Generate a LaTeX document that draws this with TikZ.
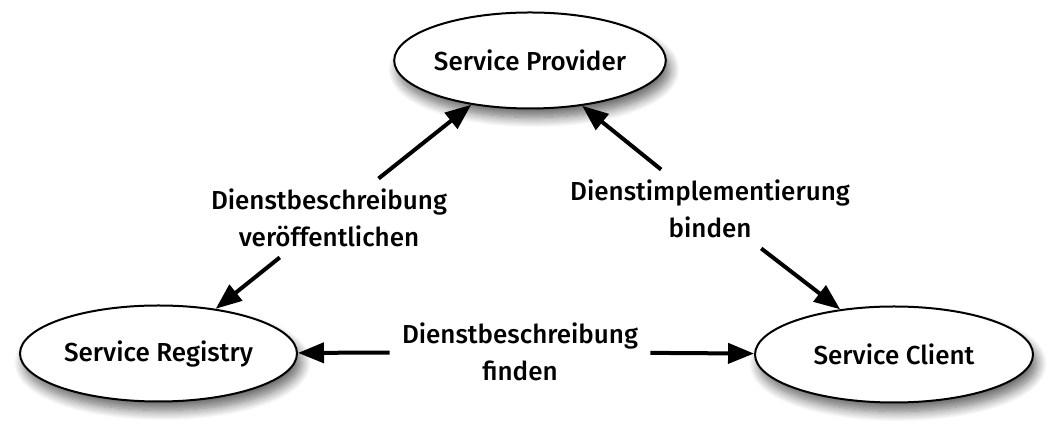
\documentclass[tikz,border=0pt]{standalone}
\usepackage{fontspec}
\setmainfont{Fira Sans Medium}
\usepackage{tikz}
\usetikzlibrary{arrows.meta,positioning,shapes.geometric,shadows.blur}
\tikzset{
  rolebox/.style={ellipse, draw, line width=1pt, fill=white, inner sep=0pt,
    minimum width=136pt, minimum height=48pt, font=\fontsize{13}{17}\selectfont,
    blur shadow={shadow xshift=2pt, shadow yshift=-4.5pt, shadow blur radius=5pt,
      shadow blur steps=12, shadow opacity=60}},
  actlabel/.style={fill=white, align=center, inner xsep=6pt, inner ysep=5pt,
    font=\fontsize{13}{18.5}\selectfont},
  arr/.style={-{Triangle[length=13pt, width=10pt]}, line width=2pt}
}
\begin{document}
\begin{tikzpicture}[x=0.5pt,y=0.5pt]
    \useasboundingbox (0,0) rectangle (1052,432);
    % roles
    \node[rolebox, minimum width=134.5pt] (prov) at (530,371.5) {Service Provider};
    \node[rolebox, minimum width=138.5pt] (reg) at (158.5,78.5) {Service Registry};
    \node[rolebox, minimum width=139pt] (cli) at (894,77.5) {Service Client};
    % actions
    \node[actlabel] (publish) at (329,214) {Dienstbeschreibung\\veröffentlichen};
    \node[actlabel] (bind) at (710,223) {Dienstimplementierung\\binden};
    \node[actlabel] (find) at (520,80) {Dienstbeschreibung\\finden};
    % connectors
    \draw[arr] (publish) -- (prov.217);
    \draw[arr] (publish) -- (reg.38.5);
    \draw[arr] (bind) -- (prov.319);
    \draw[arr] (bind) -- (cli.140.8);
    \draw[arr] (find) -- (reg);
    \draw[arr] (find) -- (cli);
  \end{tikzpicture}
\end{document}
